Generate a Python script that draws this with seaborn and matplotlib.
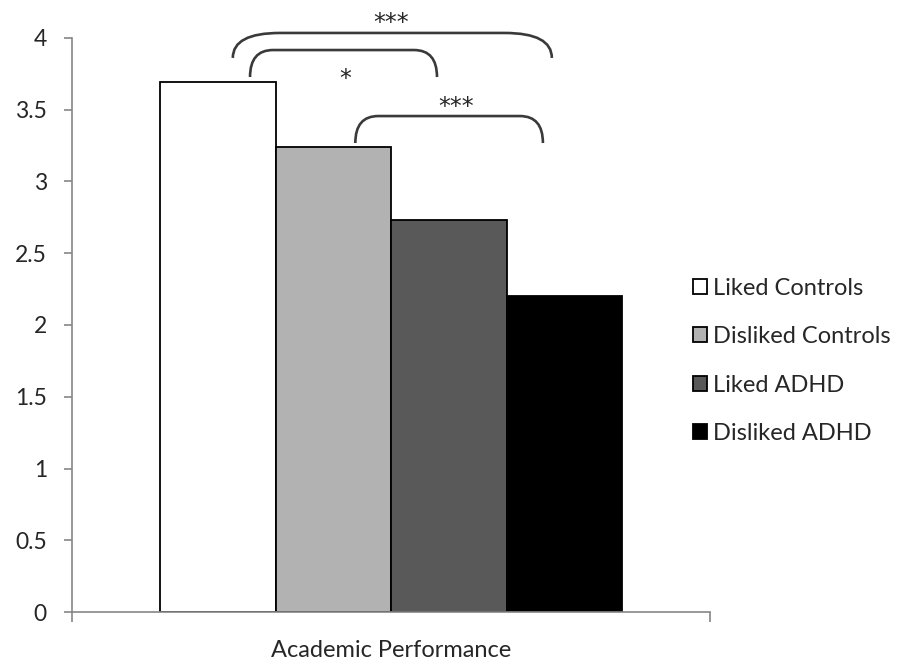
import numpy as np
import pandas as pd
import matplotlib
matplotlib.use("Agg")
import matplotlib.pyplot as plt
from matplotlib.path import Path
from matplotlib.patches import PathPatch
import seaborn as sns

# Mean academic performance by peer-status group
measure = ["Academic Performance"]
groups = ["Liked Controls", "Disliked Controls", "Liked ADHD", "Disliked ADHD"]
scores = [3.69, 3.24, 2.73, 2.20]
colors = ["#FFFFFF", "#B2B2B2", "#595959", "#000000"]
y_ticks = [0, 0.5, 1, 1.5, 2, 2.5, 3, 3.5, 4]

# Significance brackets: (left x, right x, end y, top y, corner width, label, label x, label y)
brackets = [
    (-0.221, 0.072, 3.728, 3.916, 0.036, "*", -0.072, 3.666),
    (-0.056, 0.238, 3.268, 3.456, 0.036, "***", 0.102, 3.470),
    (-0.248, 0.252, 3.861, 4.035, 0.074, "***", 0.000, 4.056),
]

sns.set_style("white")
plt.rcParams["font.family"] = ["Lato", "DejaVu Sans"]

df = pd.DataFrame({"measure": measure * len(groups), "group": groups, "score": scores})

fig = plt.figure(figsize=(9, 6.64), dpi=100)
ax = fig.add_axes([0.08, 0.0783, 0.709, 0.8645])

sns.barplot(data=df, x="measure", y="score", hue="group", hue_order=groups,
            palette=colors, width=0.724, edgecolor="black", linewidth=1.3,
            saturation=1, legend=False, ax=ax)

ax.set_xlim(-0.5, 0.5)
ax.set_ylim(0, 4)
ax.set_yticks(y_ticks)
ax.set_yticklabels([f"{t:g}" for t in y_ticks])
ax.set_xlabel("")
ax.set_ylabel("")

axis_grey = "#868686"
for side in ["top", "right"]:
    ax.spines[side].set_visible(False)
for side in ["left", "bottom"]:
    ax.spines[side].set_color(axis_grey)
    ax.spines[side].set_linewidth(1.2)
    ax.spines[side].set_zorder(5)

ax.tick_params(axis="y", direction="out", length=6, width=1.2, color=axis_grey,
               labelsize=16.5, pad=12, left=True)
ax.tick_params(axis="x", which="major", length=0, labelsize=17, pad=20)
ax.set_xticks([-0.5, 0.5], minor=True)
ax.tick_params(axis="x", which="minor", direction="out", length=7, width=1.2,
               color=axis_grey, bottom=True)

# Curved significance brackets above the bars
for x0, x1, yb, yt, rx, label, lx, ly in brackets:
    verts = [(x0, yb), (x0, yt), (x0 + rx, yt), (x1 - rx, yt), (x1, yt), (x1, yb)]
    codes = [Path.MOVETO, Path.CURVE3, Path.CURVE3, Path.LINETO, Path.CURVE3, Path.CURVE3]
    patch = PathPatch(Path(verts, codes), facecolor="none", edgecolor="#3a3a3a",
                      linewidth=1.9, clip_on=False, zorder=6)
    ax.add_patch(patch)
    ax.text(lx, ly, label, ha="center", va="baseline", fontsize=17,
            family="DejaVu Sans", clip_on=False, zorder=6)

handles = [c.patches[0] for c in ax.containers]
leg = fig.legend(handles, groups, loc="center left", bbox_to_anchor=(0.77, 0.4565),
                 frameon=False, fontsize=17, handlelength=0.6, handleheight=0.6,
                 handletextpad=0.25, labelspacing=1.16, borderpad=0, borderaxespad=0)

fig.savefig("out.png", dpi=100)
